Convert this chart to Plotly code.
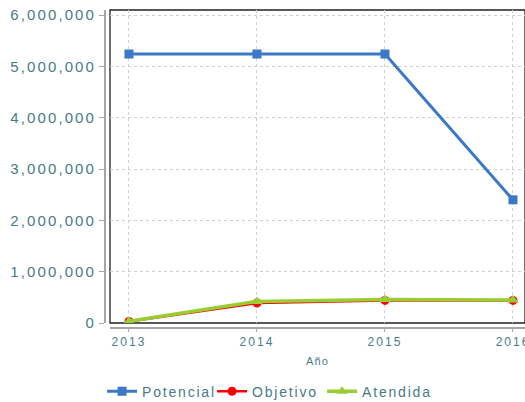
import plotly.graph_objects as go

years = [2013, 2014, 2015, 2016]
potencial = [5240000, 5240000, 5240000, 2400000]
objetivo = [30000, 390000, 440000, 440000]
atendida = [35000, 420000, 460000, 450000]
y_ticks = [0, 1000000, 2000000, 3000000, 4000000, 5000000, 6000000]

TXT = "#487b8a"
FONT = "Liberation Sans, Arial, sans-serif"

fig = go.Figure()
fig.add_trace(go.Scatter(x=years, y=potencial, name="Potencial", mode="lines+markers",
                         line=dict(color="#3a78c8", width=3),
                         marker=dict(symbol="square", size=9, color="#3a78c8")))
fig.add_trace(go.Scatter(x=years, y=objetivo, name="Objetivo", mode="lines+markers",
                         line=dict(color="#ff0000", width=2.5),
                         marker=dict(symbol="circle", size=9, color="#ff0000")))
fig.add_trace(go.Scatter(x=years, y=atendida, name="Atendida", mode="lines+markers",
                         line=dict(color="#9acd32", width=3.5),
                         marker=dict(symbol="triangle-up", size=10, color="#9acd32")))

fig.add_shape(type="rect", xref="x domain", yref="y domain", x0=0, x1=1, y0=0, y1=1,
              line=dict(color="#222222", width=1.3), layer="below")

fig.update_layout(
    width=525, height=402,
    margin=dict(l=105, r=0, t=10, b=74, autoexpand=False),
    paper_bgcolor="white", plot_bgcolor="white",
    font=dict(family=FONT, color=TXT),
    showlegend=True,
    legend=dict(orientation="h", x=-0.007, xanchor="left", y=-0.2, yanchor="middle",
                font=dict(size=14, color=TXT), entrywidth=65, entrywidthmode="pixels"),
    xaxis=dict(domain=[5 / 420, 1], range=[2012.852, 2016.094], anchor="free", position=0,
               tickvals=years, showline=True, linecolor="#a6a6a6", linewidth=2,
               ticks="outside", ticklen=3, tickcolor="#a6a6a6", tickwidth=1,
               ticklabeloverflow="allow",
               tickfont=dict(size=12, color=TXT),
               showgrid=True, gridcolor="#d0d0d0", griddash="3px,3px", zeroline=False,
               title=dict(text="Año", font=dict(size=11, color=TXT), standoff=8)),
    yaxis=dict(domain=[5 / 318, 1], range=[0, 6097400], anchor="free", position=0,
               tickvals=y_ticks, tickformat=",", showline=True, linecolor="#a6a6a6", linewidth=2,
               ticks="outside", ticklen=5, tickcolor="#a6a6a6", tickwidth=1,
               tickfont=dict(size=15, color=TXT),
               showgrid=True, gridcolor="#d0d0d0", griddash="3px,3px", zeroline=False),
)

post = """
var s=document.createElement('style');
s.textContent='body{margin:0;overflow:hidden}.ytick text{letter-spacing:2.1px}.xtick text{letter-spacing:2px}.legendtext{letter-spacing:1.8px}.g-xtitle text{letter-spacing:1.2px}';
document.head.appendChild(s);
"""
fig.write_html("out.html", post_script=post, config={"displayModeBar": False})
